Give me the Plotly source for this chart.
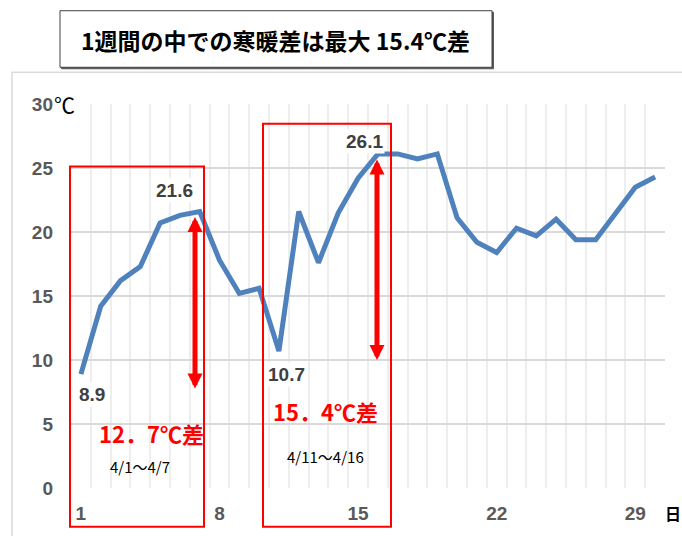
import plotly.graph_objects as go

# ---------------- data ----------------
days = list(range(1, 31))
temps = [8.9, 14.2, 16.2, 17.3, 20.7, 21.3, 21.6, 17.8, 15.2, 15.6,
         10.7, 21.6, 17.6, 21.5, 24.2, 26.1, 26.1, 25.7, 26.1, 21.1,
         19.2, 18.4, 20.3, 19.7, 21.0, 19.4, 19.4, 21.5, 23.5, 24.3]
x_tick_vals = [1, 8, 15, 22, 29]
x_tick_text = ["1", "8", "15", "22", "29"]
y_tick_vals = [0, 5, 10, 15, 20, 25, 30]
y_tick_text = ["0", "5", "10", "15", "20", "25", "30"]
labeled_days = [1, 7, 11, 16]
title_text = "1週間の中での寒暖差は最大 15.4℃差"
diff_texts = ["12．7℃差", "15．4℃差"]
period_texts = ["4/1～4/7", "4/11～4/16"]

# ---------------- layout helpers ----------------
W, H = 682, 536
# plot area in screen pixels: x 71..665, y 104..491
SL, SR, ST, SB = 71, 665, 104, 491
L, T = SL, ST
R, B = W - SR, H - SB
PW, PH = SR - SL, SB - ST


def px(x):
    return (x - SL) / PW


def py(y):
    return (SB - y) / PH


fig = go.Figure()
fig.add_trace(go.Scatter(
    x=days, y=temps, mode="lines",
    line=dict(color="#4F81BD", width=5),
    hoverinfo="skip", showlegend=False,
))

tick_font = dict(family="Liberation Sans, Arial", size=19, color="#595959", weight="bold")

fig.update_layout(
    width=W, height=H,
    margin=dict(l=L, r=R, t=T, b=B, pad=0),
    paper_bgcolor="white", plot_bgcolor="white",
    showlegend=False,
    xaxis=dict(
        range=[0.5, 30.5], tickmode="array", tickvals=x_tick_vals, ticktext=x_tick_text,
        showgrid=False, zeroline=False, showline=False, ticks="",
        tickfont=tick_font, ticklabelstandoff=12,
        minor=dict(tick0=0.5, dtick=1, showgrid=True, gridcolor="#EEEEEE", gridwidth=2, ticks=""),
    ),
    yaxis=dict(
        range=[0, 30], tickmode="array", tickvals=y_tick_vals, ticktext=y_tick_text,
        showgrid=True, gridcolor="#D9D9D9", gridwidth=2, zeroline=False, showline=False,
        ticks="", tickfont=tick_font, ticklabelstandoff=17,
    ),
)

shapes = []
# outer chart border
shapes.append(dict(type="rect", xref="paper", yref="paper",
                   x0=px(12), x1=px(700), y0=py(560), y1=py(72),
                   line=dict(color="#D9D9D9", width=1.5), layer="below"))
# title box shadow + box
shapes.append(dict(type="rect", xref="paper", yref="paper",
                   x0=px(61.5), x1=px(493.5), y0=py(68.5), y1=py(11.5),
                   line=dict(color="#595959", width=1), fillcolor="#595959"))
shapes.append(dict(type="rect", xref="paper", yref="paper",
                   x0=px(60), x1=px(492), y0=py(67), y1=py(10),
                   line=dict(color="#404040", width=1), fillcolor="white"))
# white cover areas behind annotations (between gridlines and trace)
shapes.append(dict(type="rect", xref="paper", yref="paper",
                   x0=px(77), x1=px(222), y0=py(486), y1=py(407),
                   line=dict(width=0), fillcolor="white", layer="between"))
shapes.append(dict(type="rect", xref="paper", yref="paper",
                   x0=px(252), x1=px(400), y0=py(482), y1=py(386),
                   line=dict(width=0), fillcolor="white", layer="between"))
# red period boxes
shapes.append(dict(type="rect", xref="paper", yref="paper",
                   x0=px(70), x1=px(204), y0=py(530), y1=py(167),
                   line=dict(color="#FF0000", width=2)))
shapes.append(dict(type="rect", xref="paper", yref="paper",
                   x0=px(263), x1=px(391), y0=py(530), y1=py(124),
                   line=dict(color="#FF0000", width=2)))
fig.update_layout(shapes=shapes)

ann = []
# title
ann.append(dict(xref="paper", yref="paper", x=px(275), y=py(39), text=title_text,
                showarrow=False, xanchor="center", yanchor="middle",
                font=dict(family="Noto Sans CJK JP", size=23, color="black", weight="bold")))
# ℃ unit after 30
ann.append(dict(xref="paper", yref="paper", x=px(52), y=py(104), text="℃",
                showarrow=False, xanchor="left", yanchor="middle",
                font=dict(family="Noto Sans CJK JP", size=21, color="black")))
# 日 axis unit
ann.append(dict(xref="paper", yref="paper", x=px(673), y=py(516), text="日",
                showarrow=False, xanchor="center", yanchor="middle",
                font=dict(family="Noto Sans CJK JP", size=16, color="black", weight="bold")))
# data labels
offsets = {1: (11, 20), 7: (-25, -21), 11: (8, 23), 16: (-13, -12)}
for d in labeled_days:
    v = temps[d - 1]
    dx, dy = offsets[d]
    ann.append(dict(x=d, y=v, xref="x", yref="y", text=f"{v:.1f}", showarrow=False,
                    xshift=dx, yshift=-dy, bgcolor="white",
                    font=dict(family="Liberation Sans, Arial", size=19, color="#404040", weight="bold")))
# double-headed arrows
for (xa, ytop, ybot) in [(195, 218, 391), (377, 160, 362)]:
    ann.append(dict(xref="paper", yref="paper", x=px(xa), y=py(ytop), ax=0, ay=ybot - ytop,
                    axref="pixel", ayref="pixel", text="", showarrow=True,
                    arrowside="end+start", arrowhead=2, startarrowhead=2,
                    arrowsize=0.6, startarrowsize=0.6, arrowwidth=5, arrowcolor="#FF0000"))
# red difference texts
for (cx, cy), t in zip([(151, 436), (325, 413)], diff_texts):
    ann.append(dict(xref="paper", yref="paper", x=px(cx), y=py(cy), text=t, showarrow=False,
                    xanchor="center", yanchor="middle",
                    font=dict(family="Noto Sans CJK JP", size=22, color="#FF0000", weight="bold")))
# period texts
for (cx, cy), t in zip([(140, 469), (325, 459)], period_texts):
    ann.append(dict(xref="paper", yref="paper", x=px(cx), y=py(cy), text=t, showarrow=False,
                    xanchor="center", yanchor="middle",
                    font=dict(family="Noto Sans CJK JP", size=15, color="black")))
fig.update_layout(annotations=ann)

# remove the page's default body margin so the figure sits at the window's corner
fig.write_html(
    "out.html",
    config={"displayModeBar": False},
    post_script="document.body.style.margin='0px';document.body.style.overflow='hidden';",
)
